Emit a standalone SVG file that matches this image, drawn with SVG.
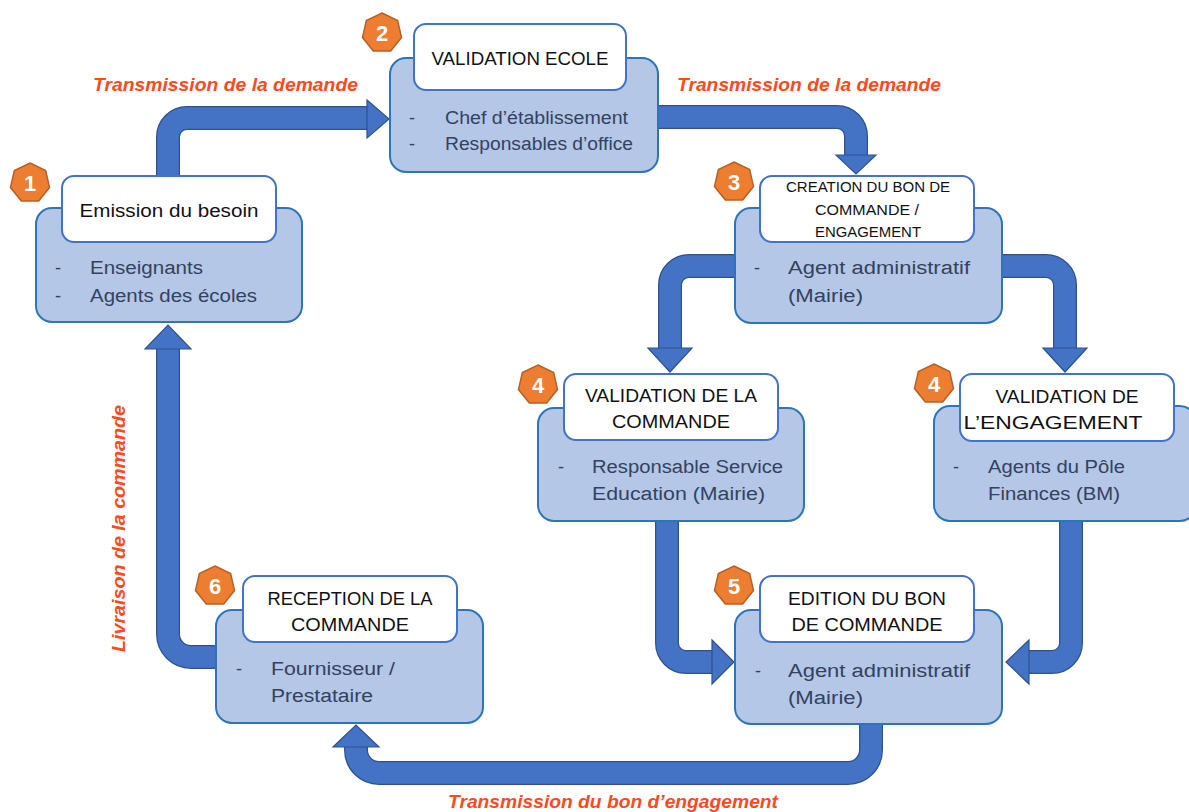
<svg xmlns="http://www.w3.org/2000/svg" width="1189" height="812" viewBox="0 0 1189 812">
  <style>
    .card { fill: #B4C7E7; stroke: #2E75B6; stroke-width: 2; }
    .head { fill: #FFFFFF; stroke: #4472C4; stroke-width: 2; }
    .title { font-family: "Liberation Sans", Arial, sans-serif; font-size: 18px; fill: #111111; text-anchor: middle; }
    .title-sm { font-family: "Liberation Sans", Arial, sans-serif; font-size: 14px; fill: #111111; text-anchor: middle; }
    .body { font-family: "Liberation Sans", Arial, sans-serif; font-size: 18px; fill: #33425F; }
    .badge { fill: #ED7D31; stroke: #B85F22; stroke-width: 1.5; }
    .num { font-family: "Liberation Sans", Arial, sans-serif; font-size: 22px; font-weight: bold; fill: #FFFFFF; text-anchor: middle; }
    .flow { font-family: "Liberation Sans", Arial, sans-serif; font-size: 18px; font-weight: bold; font-style: italic; fill: #FF4A1C; }
    .shaft-edge { fill: none; stroke: #2F528F; stroke-width: 24; }
    .shaft { fill: none; stroke: #4472C4; stroke-width: 21.5; }
    .tip { fill: #4472C4; stroke: #2F528F; stroke-width: 1.2; stroke-linejoin: miter; }
  </style>
  <defs>
    <polygon id="hept" points="0,-20 15.64,-12.47 19.5,4.45 8.68,18.02 -8.68,18.02 -19.5,4.45 -15.64,-12.47"/>
  </defs>

  <rect width="1189" height="812" fill="#FFFFFF"/>

  <!-- connectors: thick block arrows -->
  <g id="connectors">
    <g id="arrow-1-2">
      <path class="shaft-edge" d="M168,177 V137 A19,19 0 0 1 187,118 H369"/>
      <path class="shaft" d="M168,177 V137 A19,19 0 0 1 187,118 H369"/>
      <polygon class="tip" points="367,100 389,119 367,138"/>
    </g>
    <g id="arrow-2-3">
      <path class="shaft-edge" d="M657,117 H837 A19,19 0 0 1 856,136 V157"/>
      <path class="shaft" d="M657,117 H837 A19,19 0 0 1 856,136 V157"/>
      <polygon class="tip" points="836,155 876,155 856,174"/>
    </g>
    <g id="arrow-3-4a">
      <path class="shaft-edge" d="M736,266 H689 A19,19 0 0 0 670,285 V350"/>
      <path class="shaft" d="M736,266 H689 A19,19 0 0 0 670,285 V350"/>
      <polygon class="tip" points="648,348 692,348 670,372"/>
    </g>
    <g id="arrow-3-4b">
      <path class="shaft-edge" d="M1001,266 H1046 A19,19 0 0 1 1065,285 V350"/>
      <path class="shaft" d="M1001,266 H1046 A19,19 0 0 1 1065,285 V350"/>
      <polygon class="tip" points="1043,348 1087,348 1065,372"/>
    </g>
    <g id="arrow-4a-5">
      <path class="shaft-edge" d="M667,520 V643 A19,19 0 0 0 686,662 H714"/>
      <path class="shaft" d="M667,520 V643 A19,19 0 0 0 686,662 H714"/>
      <polygon class="tip" points="712,640 734,662 712,684"/>
    </g>
    <g id="arrow-4b-5">
      <path class="shaft-edge" d="M1071,520 V643 A19,19 0 0 1 1052,662 H1027"/>
      <path class="shaft" d="M1071,520 V643 A19,19 0 0 1 1052,662 H1027"/>
      <polygon class="tip" points="1029,640 1006,662 1029,684"/>
    </g>
    <g id="arrow-5-6">
      <path class="shaft-edge" d="M871,723 V750 A23,23 0 0 1 848,773 H379 A23,23 0 0 1 356,750 V745"/>
      <path class="shaft" d="M871,723 V750 A23,23 0 0 1 848,773 H379 A23,23 0 0 1 356,750 V745"/>
      <polygon class="tip" points="333,747 379,747 356,725"/>
    </g>
    <g id="arrow-6-1">
      <path class="shaft-edge" d="M217,657 H191 A23,23 0 0 1 168,634 V348"/>
      <path class="shaft" d="M217,657 H191 A23,23 0 0 1 168,634 V348"/>
      <polygon class="tip" points="145,349 191,349 168,325"/>
    </g>
  </g>

  <!-- flow labels -->
  <g id="labels">
    <text class="flow" x="93" y="91" textLength="265" lengthAdjust="spacingAndGlyphs">Transmission de la demande</text>
    <text class="flow" x="677" y="91" textLength="264" lengthAdjust="spacingAndGlyphs">Transmission de la demande</text>
    <text class="flow" transform="translate(125,652) rotate(-90)" textLength="247" lengthAdjust="spacingAndGlyphs">Livraison de la commande</text>
    <text class="flow" x="448" y="808" textLength="330" lengthAdjust="spacingAndGlyphs">Transmission du bon d’engagement</text>
  </g>

  <!-- 1: need -->
  <g id="node-1">
    <rect class="card" x="36" y="208" width="266" height="114" rx="16"/>
    <rect class="head" x="62" y="176" width="214" height="66" rx="12"/>
    <text class="title" x="169" y="217" textLength="179" lengthAdjust="spacingAndGlyphs">Emission du besoin</text>
    <text class="body" x="55" y="274">-</text>
    <text class="body" x="90" y="274" textLength="113" lengthAdjust="spacingAndGlyphs">Enseignants</text>
    <text class="body" x="55" y="302">-</text>
    <text class="body" x="90" y="302" textLength="167" lengthAdjust="spacingAndGlyphs">Agents des écoles</text>
    <use href="#hept" class="badge" x="30" y="183"/>
    <text class="num" x="30" y="191">1</text>
  </g>

  <!-- 2: school validation -->
  <g id="node-2">
    <rect class="card" x="390" y="58" width="268" height="114" rx="16"/>
    <rect class="head" x="414" y="24" width="212" height="66" rx="12"/>
    <text class="title" x="520" y="65" textLength="177" lengthAdjust="spacingAndGlyphs">VALIDATION ECOLE</text>
    <text class="body" x="409" y="124">-</text>
    <text class="body" x="445" y="124" textLength="183" lengthAdjust="spacingAndGlyphs">Chef d’établissement</text>
    <text class="body" x="409" y="150">-</text>
    <text class="body" x="445" y="150" textLength="188" lengthAdjust="spacingAndGlyphs">Responsables d’office</text>
    <use href="#hept" class="badge" x="382" y="33"/>
    <text class="num" x="382" y="41">2</text>
  </g>

  <!-- 3: order creation -->
  <g id="node-3">
    <rect class="card" x="735" y="208" width="267" height="115" rx="16"/>
    <rect class="head" x="760" y="176" width="214" height="66" rx="12"/>
    <text class="title-sm" x="868" y="192" textLength="164" lengthAdjust="spacingAndGlyphs">CREATION DU BON DE</text>
    <text class="title-sm" x="867" y="215" textLength="104" lengthAdjust="spacingAndGlyphs">COMMANDE /</text>
    <text class="title-sm" x="868" y="237" textLength="106" lengthAdjust="spacingAndGlyphs">ENGAGEMENT</text>
    <text class="body" x="754" y="274">-</text>
    <text class="body" x="788" y="274" textLength="182" lengthAdjust="spacingAndGlyphs">Agent administratif</text>
    <text class="body" x="788" y="302" textLength="75" lengthAdjust="spacingAndGlyphs">(Mairie)</text>
    <use href="#hept" class="badge" x="734" y="182"/>
    <text class="num" x="734" y="190">3</text>
  </g>

  <!-- 4: order validation -->
  <g id="node-4a">
    <rect class="card" x="538" y="408" width="266" height="113" rx="16"/>
    <rect class="head" x="564" y="374" width="214" height="66" rx="12"/>
    <text class="title" x="671" y="402" textLength="172" lengthAdjust="spacingAndGlyphs">VALIDATION DE LA</text>
    <text class="title" x="671" y="428" textLength="118" lengthAdjust="spacingAndGlyphs">COMMANDE</text>
    <text class="body" x="558" y="473">-</text>
    <text class="body" x="592" y="473" textLength="191" lengthAdjust="spacingAndGlyphs">Responsable Service</text>
    <text class="body" x="592" y="500" textLength="173" lengthAdjust="spacingAndGlyphs">Education (Mairie)</text>
    <use href="#hept" class="badge" x="538" y="385"/>
    <text class="num" x="538" y="393">4</text>
  </g>

  <!-- 4: commitment validation -->
  <g id="node-4b">
    <rect class="card" x="934" y="406" width="262" height="115" rx="16"/>
    <rect class="head" x="960" y="374" width="214" height="67" rx="12"/>
    <text class="title" x="1067" y="403" textLength="143" lengthAdjust="spacingAndGlyphs">VALIDATION DE</text>
    <text class="title" x="1053" y="429" textLength="179" lengthAdjust="spacingAndGlyphs">L’ENGAGEMENT</text>
    <text class="body" x="953" y="473">-</text>
    <text class="body" x="988" y="473" textLength="137" lengthAdjust="spacingAndGlyphs">Agents du Pôle</text>
    <text class="body" x="988" y="500" textLength="132" lengthAdjust="spacingAndGlyphs">Finances (BM)</text>
    <use href="#hept" class="badge" x="934" y="384"/>
    <text class="num" x="934" y="392">4</text>
  </g>

  <!-- 5: purchase order issue -->
  <g id="node-5">
    <rect class="card" x="735" y="610" width="267" height="114" rx="16"/>
    <rect class="head" x="760" y="576" width="214" height="66" rx="12"/>
    <text class="title" x="867" y="605" textLength="158" lengthAdjust="spacingAndGlyphs">EDITION DU BON</text>
    <text class="title" x="867" y="631" textLength="151" lengthAdjust="spacingAndGlyphs">DE COMMANDE</text>
    <text class="body" x="755" y="677">-</text>
    <text class="body" x="788" y="677" textLength="182" lengthAdjust="spacingAndGlyphs">Agent administratif</text>
    <text class="body" x="788" y="704" textLength="75" lengthAdjust="spacingAndGlyphs">(Mairie)</text>
    <use href="#hept" class="badge" x="734" y="586"/>
    <text class="num" x="734" y="594">5</text>
  </g>

  <!-- 6: receipt -->
  <g id="node-6">
    <rect class="card" x="216" y="610" width="267" height="113" rx="16"/>
    <rect class="head" x="243" y="576" width="214" height="66" rx="12"/>
    <text class="title" x="350" y="605" textLength="165" lengthAdjust="spacingAndGlyphs">RECEPTION DE LA</text>
    <text class="title" x="350" y="631" textLength="118" lengthAdjust="spacingAndGlyphs">COMMANDE</text>
    <text class="body" x="236" y="675">-</text>
    <text class="body" x="271" y="675" textLength="124" lengthAdjust="spacingAndGlyphs">Fournisseur /</text>
    <text class="body" x="271" y="702" textLength="102" lengthAdjust="spacingAndGlyphs">Prestataire</text>
    <use href="#hept" class="badge" x="215" y="586"/>
    <text class="num" x="215" y="594">6</text>
  </g>
</svg>
